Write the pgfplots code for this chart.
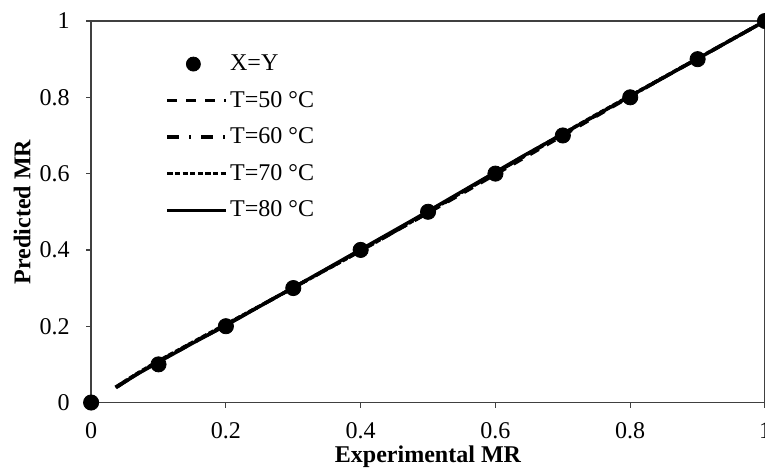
\documentclass[border=0pt]{standalone}
\usepackage{fontspec}
\setmainfont{Liberation Serif}
\usepackage{pgfplots}
\pgfplotsset{compat=1.18}
\begin{document}
\begin{tikzpicture}[font=\fontsize{12}{14}\selectfont]
\begin{axis}[
  scale only axis,
  width=336.5pt, height=190.5pt,
  xmin=0, xmax=1, ymin=0, ymax=1,
  xtick={0,0.2,...,1}, ytick={0,0.2,...,1},
  xticklabels={0,0.2,0.4,0.6,0.8,1},
  yticklabels={0,0.2,0.4,0.6,0.8,1},
  /pgf/number format/assume math mode=true,
  axis line style={black!75, line width=0.8pt},
  tick style={black!75, line width=0.6pt},
  tick align=outside, major tick length=2.5pt,
  xtick pos=bottom, ytick pos=left,
  xticklabel style={yshift=-4pt, font=\fontsize{12}{14}\selectfont},
  yticklabel style={xshift=-4.7pt, font=\fontsize{12}{14}\selectfont},
  xlabel={\textbf{Experimental MR}},
  ylabel={\textbf{Predicted MR}},
  xlabel style={at={(0.5,-0.141)}, anchor=center, font=\fontsize{12}{14}\selectfont},
  ylabel style={at={(-0.1025,0.5)}, anchor=center, font=\fontsize{12}{14}\selectfont},
  clip=false,
  legend cell align=left,
  legend style={draw=none, fill=none, at={(0.11,0.918)}, anchor=north west,
    row sep=6.8pt, inner sep=0pt,
    nodes={inner sep=1pt, font=\fontsize{12}{14}\selectfont}},
  legend image code/.code={\draw[#1] (0pt,0pt) -- (29.5pt,0pt);},
]
\addplot[only marks, mark=*, mark size=3.8pt, black,
  legend image code/.code={\fill[black] (13pt,0pt) circle (3.5pt);}]
  coordinates {(0,0) (0.1,0.1) (0.2,0.2) (0.3,0.3) (0.4,0.4) (0.5,0.5) (0.6,0.6) (0.7,0.7) (0.8,0.8) (0.9,0.9) (1,1)};
\addlegendentry{X=Y}
\addplot[black, line width=1.7pt, dash pattern=on 5pt off 4.5pt]
  coordinates {(0.036,0.040) (0.05,0.055) (0.07,0.077) (0.1,0.108) (0.14,0.147) (0.2,0.204) (0.26,0.262) (0.33,0.330) (0.4,0.398) (0.5,0.497) (0.6,0.598) (0.7,0.700) (0.8,0.802) (0.9,0.902) (1,1)};
\addlegendentry{T=50 °C}
\addplot[black, line width=1.7pt, dash pattern=on 6pt off 5pt on 1pt off 5pt]
  coordinates {(0.04,0.043) (0.055,0.060) (0.075,0.082) (0.1,0.107) (0.15,0.155) (0.2,0.203) (0.27,0.272) (0.35,0.350) (0.43,0.428) (0.5,0.498) (0.6,0.602) (0.7,0.703) (0.8,0.803) (0.9,0.901) (1,1)};
\addlegendentry{T=60 °C}
\addplot[black, line width=1.7pt, dash pattern=on 2.6pt off 1.2pt]
  coordinates {(0.038,0.041) (0.052,0.058) (0.072,0.080) (0.1,0.109) (0.13,0.138) (0.18,0.186) (0.24,0.243) (0.3,0.301) (0.38,0.378) (0.46,0.458) (0.55,0.551) (0.65,0.654) (0.75,0.755) (0.85,0.853) (1,1)};
\addlegendentry{T=70 °C}
\addplot[black, line width=1.7pt]
  coordinates {(0.037,0.039) (0.05,0.054) (0.07,0.076) (0.1,0.106) (0.15,0.155) (0.2,0.202) (0.25,0.252) (0.32,0.321) (0.4,0.401) (0.48,0.481) (0.56,0.563) (0.64,0.645) (0.72,0.724) (0.82,0.823) (0.91,0.911) (1,1)};
\addlegendentry{T=80 °C}
\end{axis}
\pgfresetboundingbox
\useasboundingbox ([xshift=-45.5pt,yshift=-33.5pt]current axis.south west) rectangle ([yshift=10.5pt]current axis.north east);
\end{tikzpicture}
\end{document}
